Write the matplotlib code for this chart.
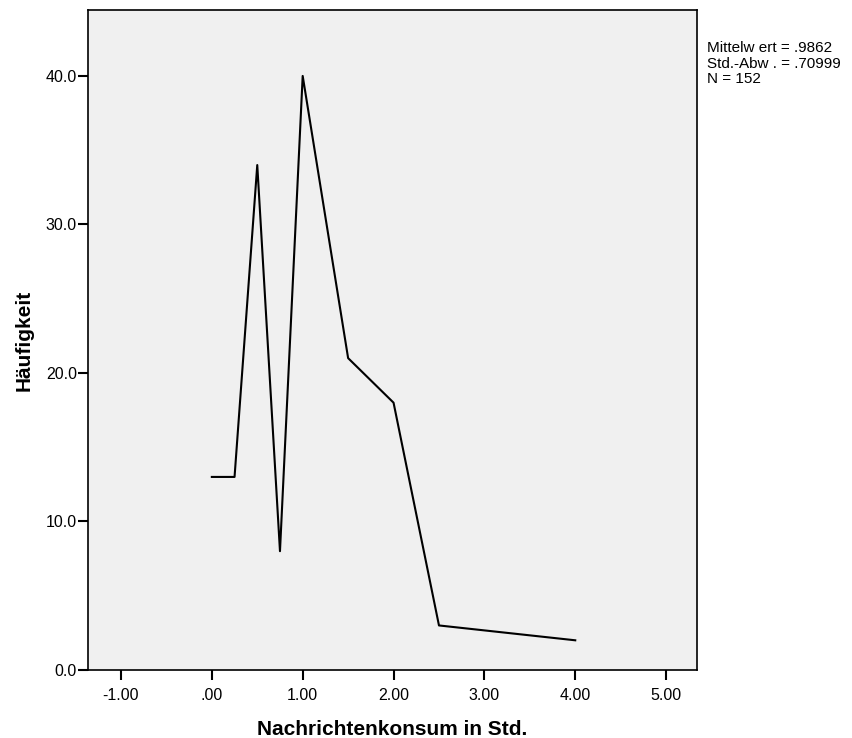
import matplotlib
matplotlib.use("Agg")
import matplotlib.pyplot as plt

plt.rcParams['font.family'] = ['Liberation Sans', 'DejaVu Sans']

# Data (frequency polygon)
hours = [0.0, 0.25, 0.5, 0.75, 1.0, 1.5, 2.0, 2.5, 4.0]
freq = [13, 13, 34, 8, 40, 21, 18, 3, 2]

x_ticks = [-1, 0, 1, 2, 3, 4, 5]
x_ticklabels = ["-1.00", ".00", "1.00", "2.00", "3.00", "4.00", "5.00"]
y_ticks = [0, 10, 20, 30, 40]
y_ticklabels = ["0.0", "10.0", "20.0", "30.0", "40.0"]
stats_text = "Mittelw ert = .9862\nStd.-Abw . = .70999\nN = 152"

fig = plt.figure(figsize=(8.53, 7.38), dpi=100)
ax = fig.add_axes([88/853, 68/738, 609/853, 660/738])
ax.set_facecolor('#F0F0F0')

ax.plot(hours, freq, color='black', linewidth=1.5)

ax.set_xlim(-1.363, 5.34)
ax.set_ylim(0, 44.44)
ax.set_xticks(x_ticks)
ax.set_xticklabels(x_ticklabels)
ax.set_yticks(y_ticks)
ax.set_yticklabels(y_ticklabels)
ax.tick_params(axis='x', direction='out', length=7, width=1.5, pad=6, labelsize=11.5)
ax.tick_params(axis='y', direction='out', length=7, width=1.5, pad=1, labelsize=11.5)
for sp in ax.spines.values():
    sp.set_linewidth(1.2)
    sp.set_color('black')

ax.set_xlabel("Nachrichtenkonsum in Std.", fontsize=15, fontweight='bold', labelpad=12)
ax.set_ylabel("Häufigkeit", fontsize=15, fontweight='bold', labelpad=9)

fig.text(707/853, 1 - 41/738, stats_text, fontsize=11, va='top', ha='left', linespacing=1.15)

fig.savefig("out.png", dpi=100, facecolor='white')
